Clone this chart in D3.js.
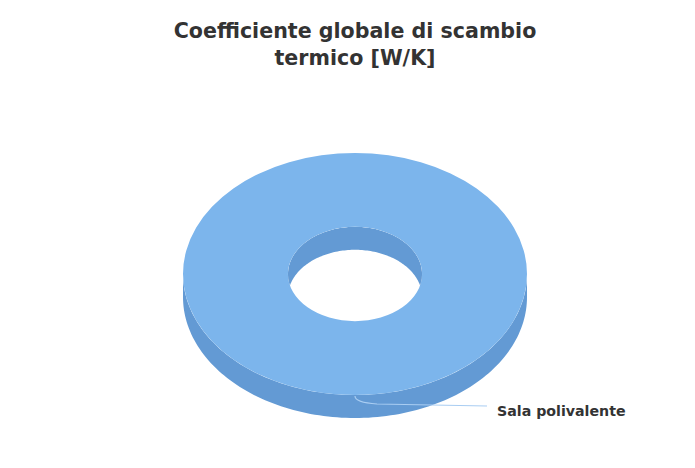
<!DOCTYPE html>
<html><head><meta charset="utf-8">
<script src="https://cdn.jsdelivr.net/npm/d3@7"></script>
<style>body{margin:0;background:#fff}svg{display:block}</style>
</head><body>
<svg id="c" width="695" height="468"></svg>
<script>
const titleLines = ["Coefficiente globale di scambio", "termico [W/K]"];
const categories = ["Sala polivalente"];
const values = [100];
const colors = ["#7cb5ec"];
const sideColors = ["#639ad4"];

const W = 695, H = 468;
const svg = d3.select("#c");
svg.append("rect").attr("width", W).attr("height", H).attr("fill", "#fff");

svg.append("g").selectAll("text").data(titleLines).join("text")
  .attr("x", 355).attr("y", (d, i) => 38 + i * 26.5)
  .attr("text-anchor", "middle")
  .attr("font-family", "DejaVu Sans, sans-serif").attr("font-weight", "bold")
  .attr("font-size", 20.6).attr("fill", "#333")
  .text(d => d);

const cx = 355, cy = 274, rx = 172, ry = 121, depth = 23, innerFrac = 0.39;
const sy = ry / rx;
const pie = d3.pie().sort(null).startAngle(0).endAngle(2 * Math.PI)(values);

const g = svg.append("g");
function ell(a, r, dy) { // a: d3 angle (0 at top, clockwise)
  return [cx + r * Math.sin(a), cy - r * sy * Math.cos(a) + dy];
}
function wall(r, a0, a1) {
  const n = 120, pts = [];
  for (let i = 0; i <= n; i++) pts.push(ell(a0 + (a1 - a0) * i / n, r, 0));
  for (let i = n; i >= 0; i--) pts.push(ell(a0 + (a1 - a0) * i / n, r, depth));
  return "M" + pts.map(p => p.join(",")).join("L") + "Z";
}

pie.forEach((p, i) => {
  g.append("path").attr("d", wall(rx, Math.PI / 2, Math.PI * 1.5)).attr("fill", sideColors[i]);
  const arc = d3.arc().innerRadius(rx * innerFrac).outerRadius(rx).startAngle(p.startAngle).endAngle(p.endAngle);
  g.append("path").attr("d", arc()).attr("fill", colors[i])
    .attr("transform", `translate(${cx},${cy}) scale(1,${sy})`);
  const clipId = "hole" + i;
  svg.append("clipPath").attr("id", clipId).append("ellipse")
    .attr("cx", cx).attr("cy", cy).attr("rx", rx * innerFrac).attr("ry", rx * innerFrac * sy);
  g.append("path").attr("d", wall(rx * innerFrac, -Math.PI / 2, Math.PI / 2)).attr("fill", sideColors[i])
    .attr("clip-path", `url(#${clipId})`);
});

// data label with connector
const lbl = svg.append("g");
const p0 = ell(Math.PI, rx, 0);
lbl.append("path")
  .attr("d", `M${p0[0]},${p0[1]+1} C${p0[0]},${p0[1]+6} ${p0[0]+8},${p0[1]+8} ${p0[0]+22},${p0[1]+9} L${p0[0]+132},${p0[1]+11}`)
  .attr("fill", "none").attr("stroke", "#a9cdf2").attr("stroke-width", 1.2);
lbl.append("text").attr("x", p0[0] + 142).attr("y", p0[1] + 21)
  .attr("font-family", "DejaVu Sans, sans-serif").attr("font-size", 14.2)
  .attr("font-weight", "bold").attr("fill", "#333").text(categories[0]);
</script>
</body></html>
